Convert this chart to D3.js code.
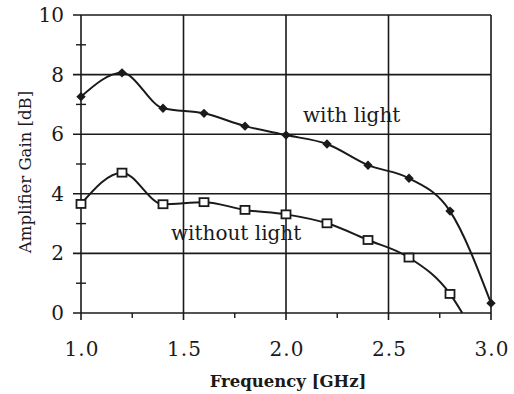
<!DOCTYPE html>
<html><head><meta charset="utf-8">
<script src="https://cdn.jsdelivr.net/npm/d3@7"></script>
<style>body{margin:0;background:#fff}</style>
</head><body>
<svg id="c" width="514" height="394"></svg>
<script>
const freq = [1.0,1.2,1.4,1.6,1.8,2.0,2.2,2.4,2.6,2.8,3.0];
const withLight = [7.26,8.06,6.87,6.70,6.27,5.97,5.67,4.96,4.52,3.42,0.33];
const freqNoLight = [1.0,1.2,1.4,1.6,1.8,2.0,2.2,2.4,2.6,2.8];
const withoutLight = [3.66,4.71,3.65,3.72,3.46,3.31,3.01,2.45,1.86,0.64];
const noLightEnd = [2.86, 0];
const xTicks = [1.0,1.5,2.0,2.5,3.0];
const yTicks = [0,2,4,6,8,10];
const xMinor = [1.25,1.75,2.25,2.75];
const yMinor = [1,3,5,7,9];

const svg = d3.select("#c");
const x = d3.scaleLinear().domain([1,3]).range([81,491]);
const y = d3.scaleLinear().domain([0,10]).range([313,15]);
const ink = "#1a1a1a";
const font = "'DejaVu Serif',serif";

// grid
svg.append("g").selectAll("line").data(yTicks).join("line")
  .attr("x1",73).attr("x2",491).attr("y1",d=>y(d)).attr("y2",d=>y(d))
  .attr("stroke",ink).attr("stroke-width",1.6);
svg.append("g").selectAll("line").data(xTicks).join("line")
  .attr("x1",d=>x(d)).attr("x2",d=>x(d)).attr("y1",15).attr("y2",320)
  .attr("stroke",ink).attr("stroke-width",1.6);
svg.append("g").selectAll("line").data(yMinor).join("line")
  .attr("x1",76).attr("x2",86).attr("y1",d=>y(d)).attr("y2",d=>y(d))
  .attr("stroke",ink).attr("stroke-width",1.4);
svg.append("g").selectAll("line").data(xMinor).join("line")
  .attr("x1",d=>x(d)).attr("x2",d=>x(d)).attr("y1",313).attr("y2",318)
  .attr("stroke",ink).attr("stroke-width",1.4);

// tick labels
svg.append("g").selectAll("text").data(yTicks).join("text")
  .attr("x",64).attr("y",d=>y(d)+7).attr("text-anchor","end")
  .attr("font-family",font).attr("font-size",20).attr("fill",ink).text(d=>d);
svg.append("g").selectAll("text").data(xTicks).join("text")
  .attr("x",d=>x(d)+1).attr("y",356).attr("text-anchor","middle")
  .attr("font-family",font).attr("font-size",20).attr("letter-spacing",1).attr("fill",ink).text(d=>d.toFixed(1));

// titles
svg.append("text").attr("x",288).attr("y",387).attr("text-anchor","middle")
  .attr("font-family",font).attr("font-weight","bold").attr("font-size",16.5)
  .attr("fill",ink).text("Frequency [GHz]");
svg.append("text").attr("transform","translate(31,172) rotate(-90)").attr("text-anchor","middle")
  .attr("font-family",font).attr("font-size",16.5).attr("fill",ink).text("Amplifier Gain [dB]");

// lines
const line = d3.line().x(d=>x(d[0])).y(d=>y(d[1])).curve(d3.curveMonotoneX);
const p1 = freq.map((f,i)=>[f,withLight[i]]);
const p2 = freqNoLight.map((f,i)=>[f,withoutLight[i]]);
svg.append("path").attr("d",line(p1)).attr("fill","none").attr("stroke",ink).attr("stroke-width",2);
svg.append("path").attr("d",line(p2.concat([noLightEnd]))).attr("fill","none").attr("stroke",ink).attr("stroke-width",2);

// markers
svg.append("g").selectAll("path").data(p1).join("path")
  .attr("transform",d=>`translate(${x(d[0])},${y(d[1])})`)
  .attr("d",d3.symbol(d3.symbolDiamond2,56)).attr("fill",ink);
svg.append("g").selectAll("rect").data(p2).join("rect")
  .attr("x",d=>x(d[0])-4.5).attr("y",d=>y(d[1])-4).attr("width",9).attr("height",8)
  .attr("fill","#fff").attr("stroke",ink).attr("stroke-width",1.8);

// labels
svg.append("text").attr("x",303).attr("y",122).attr("font-family",font).attr("font-size",20)
  .attr("fill",ink).text("with light");
svg.append("text").attr("x",171).attr("y",240).attr("font-family",font).attr("font-size",20)
  .attr("fill",ink).text("without light");
</script>
</body></html>
